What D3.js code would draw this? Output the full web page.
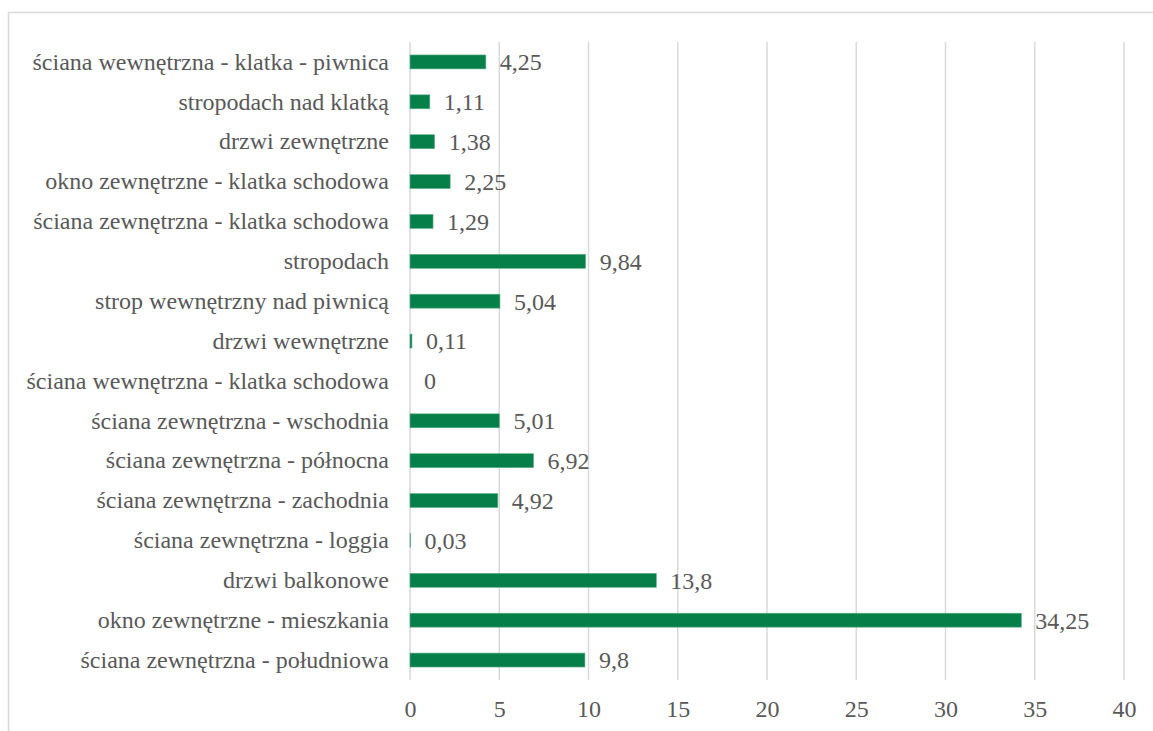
<!DOCTYPE html>
<html>
<head>
<meta charset="utf-8">
<script src="https://cdn.jsdelivr.net/npm/d3@7"></script>
<style>
  body { margin: 0; background: #fff; }
</style>
</head>
<body>
<div id="chart"></div>
<script>
var svgWidth = 1153;
var svgHeight = 731;

var margin = { top: 42, right: 29, bottom: 51, left: 410 };
var width = 1124 - margin.left;
var height = 680 - margin.top;

var fontFamily = "Liberation Serif";
var fontSize = "24px";
var textColor = "#595959";

// categories top to bottom
var categories = [
  "ściana wewnętrzna - klatka - piwnica",
  "stropodach nad klatką",
  "drzwi zewnętrzne",
  "okno zewnętrzne - klatka schodowa",
  "ściana zewnętrzna - klatka schodowa",
  "stropodach",
  "strop wewnętrzny nad piwnicą",
  "drzwi wewnętrzne",
  "ściana wewnętrzna - klatka schodowa",
  "ściana zewnętrzna - wschodnia",
  "ściana zewnętrzna - północna",
  "ściana zewnętrzna - zachodnia",
  "ściana zewnętrzna - loggia",
  "drzwi balkonowe",
  "okno zewnętrzne - mieszkania",
  "ściana zewnętrzna - południowa"
];
var values = [4.25, 1.11, 1.38, 2.25, 1.29, 9.84, 5.04, 0.11, 0, 5.01, 6.92, 4.92, 0.03, 13.8, 34.25, 9.8];
var xTicks = [0, 5, 10, 15, 20, 25, 30, 35, 40];

var data = categories.map(function(c, i) { return { name: c, value: values[i] }; });

var svg = d3.select("#chart")
  .append("svg")
  .attr("width", svgWidth)
  .attr("height", svgHeight);

// chart area border (only top and left edges fall inside the frame)
svg.append("rect")
  .attr("x", 8.5)
  .attr("y", 12.5)
  .attr("width", 1200)
  .attr("height", 800)
  .attr("fill", "none")
  .attr("stroke", "#d9d9d9")
  .attr("stroke-width", 1.5);

var chartGroup = svg.append("g")
  .attr("transform", `translate(${margin.left}, ${margin.top})`);

var xScale = d3.scaleLinear().domain([0, 40]).range([0, width]);
var yScale = d3.scaleBand()
  .domain(categories)
  .range([0, height])
  .paddingInner(0.65)
  .paddingOuter(0.325);

// vertical gridlines
chartGroup.selectAll(".grid")
  .data(xTicks)
  .enter()
  .append("line")
  .attr("class", "grid")
  .attr("x1", d => xScale(d))
  .attr("x2", d => xScale(d))
  .attr("y1", 0)
  .attr("y2", height)
  .attr("stroke", "#d9d9d9")
  .attr("stroke-width", 1.5);

// x axis labels
var bottomAxis = d3.axisBottom(xScale)
  .tickValues(xTicks)
  .tickSize(0)
  .tickPadding(20);

var xAxis = chartGroup.append("g")
  .attr("transform", `translate(0, ${height})`)
  .call(bottomAxis);
xAxis.select(".domain").remove();
xAxis.selectAll("text")
  .style("font-size", fontSize)
  .style("font-family", fontFamily)
  .attr("fill", textColor);

// y axis labels
var leftAxis = d3.axisLeft(yScale)
  .tickSize(0)
  .tickPadding(21);

var yAxis = chartGroup.append("g").call(leftAxis);
yAxis.select(".domain").remove();
yAxis.selectAll("text")
  .style("font-size", fontSize)
  .style("font-family", fontFamily)
  .attr("fill", textColor);

// bars
chartGroup.selectAll(".bar")
  .data(data)
  .enter()
  .append("rect")
  .attr("class", "bar")
  .attr("x", 0)
  .attr("y", d => yScale(d.name))
  .attr("width", d => xScale(d.value))
  .attr("height", yScale.bandwidth())
  .attr("fill", "#077f48")
  .attr("stroke", d => d.value > 0 ? "#5fb08a" : "none")
  .attr("stroke-width", 0.6);

// value labels
chartGroup.selectAll(".label")
  .data(data)
  .enter()
  .append("text")
  .attr("class", "label")
  .attr("x", d => xScale(d.value) + 14)
  .attr("y", d => yScale(d.name) + yScale.bandwidth() / 2)
  .attr("dy", "0.35em")
  .style("font-size", fontSize)
  .style("font-family", fontFamily)
  .attr("fill", textColor)
  .text(d => String(d.value).replace(".", ","));
</script>
</body>
</html>
